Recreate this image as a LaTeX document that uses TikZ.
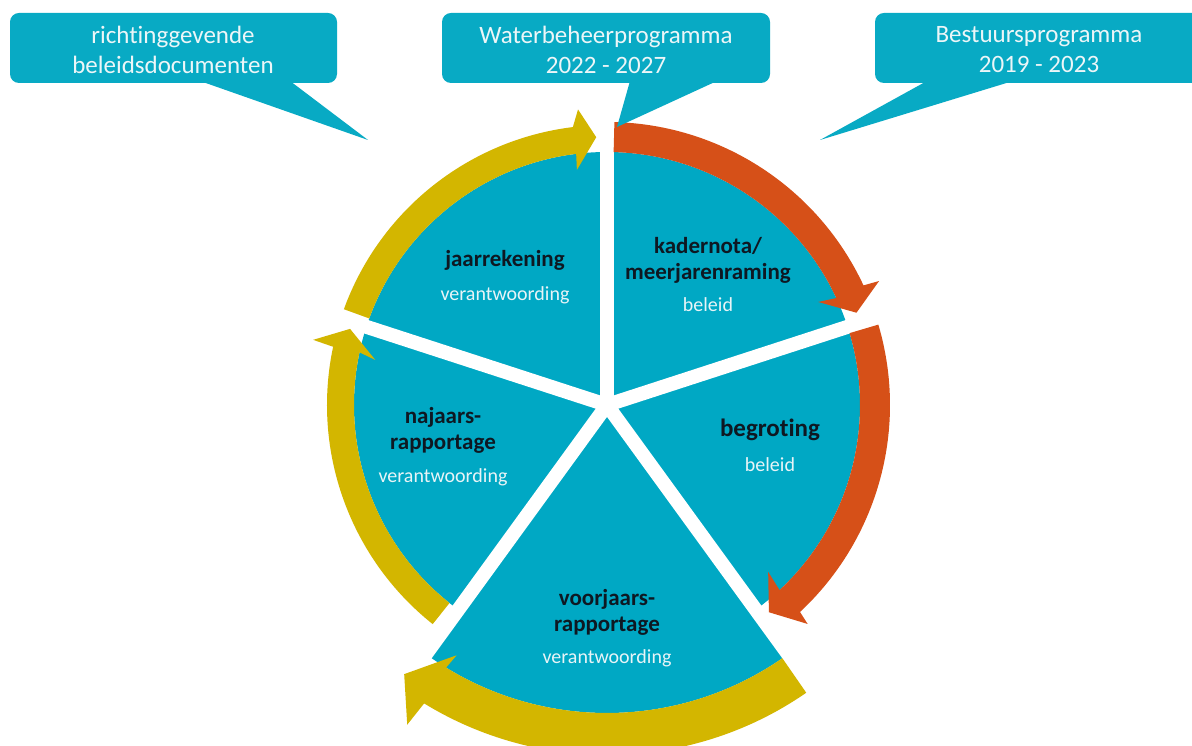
\documentclass[tikz,border=0pt]{standalone}
\usepackage{fontspec}
\setmainfont{Carlito}[Ligatures={NoCommon}]
\definecolor{myteal}{RGB}{0,168,196}
\definecolor{callc}{RGB}{8,170,196}
\definecolor{orangec}{RGB}{214,80,24}
\definecolor{yellowc}{RGB}{211,182,0}
\definecolor{titlec}{RGB}{14,24,34}
\definecolor{subc}{RGB}{232,244,247}
\definecolor{calltxt}{RGB}{236,246,248}
\tikzset{
  ttl/.style={font=\bfseries\fontsize{23}{26}\selectfont, text=titlec, align=center, inner sep=0pt},
  subt/.style={font=\fontsize{20}{23}\selectfont, text=subc, inner sep=0pt},
  callt/.style={font=\fontsize{25}{30}\selectfont, text=calltxt, align=center, inner sep=0pt},
  callbox/.style={fill=callc, rounded corners=9pt},
  gapline/.style={draw=white, line width=14pt},
}
\begin{document}
\begin{tikzpicture}[x=1pt,y=1pt]
\useasboundingbox (0,0) rectangle (1192,746);
\clip (0,0) rectangle (1192,746);
\fill[white] (0,0) rectangle (1192,746);

\begin{scope}[shift={(607,341)}]
  % slices
  \fill[myteal] (0,0) -- (90:253pt) arc[start angle=90, end angle=18, radius=253pt] -- cycle;
  \fill[myteal] (0,0) -- (18:253pt) arc[start angle=18, end angle=-54, radius=253pt] -- cycle;
  \fill[myteal] (0,0) -- (-54:308pt) arc[start angle=-54, end angle=-126, radius=308pt] -- cycle;
  \fill[myteal] (0,0) -- (234:253pt) arc[start angle=234, end angle=162, radius=253pt] -- cycle;
  \fill[myteal] (0,0) -- (162:253pt) arc[start angle=162, end angle=90, radius=253pt] -- cycle;
  % gaps
  \foreach \a in {90,18,162} \draw[gapline] (0,0) -- (\a:256pt);
  \foreach \a in {234,306} \draw[gapline] (0,0) -- (\a:312pt);
  % orange arrows
  \fill[orangec] (88.5:283pt) arc[start angle=88.5, end angle=25, radius=283pt]
     -- (24.5:299pt) -- (20.3:266pt) -- (26:235pt) -- (25:253pt)
     arc[start angle=25, end angle=88.5, radius=253pt] -- cycle;
  \fill[orangec] (16.5:283pt) arc[start angle=16.5, end angle=-47, radius=283pt]
     -- (-47.5:297pt) -- (-52:263pt) -- (-46:232pt) -- (-47:253pt)
     arc[start angle=-47, end angle=16.5, radius=253pt] -- cycle;
  % yellow arrows
  \fill[yellowc] (-55.3:350pt) arc[start angle=-55.3, end angle=-121.5, radius=350pt]
     -- (-122:377pt) -- (-127:337pt) -- (-121:292pt) -- (-121.5:308pt)
     arc[start angle=-121.5, end angle=-55.3, radius=308pt] -- cycle;
  \fill[yellowc] (231.5:280pt) arc[start angle=231.5, end angle=168, radius=280pt]
     -- (167.5:301pt) -- (163.5:268pt) -- (169:236pt) -- (168:253pt)
     arc[start angle=168, end angle=231.5, radius=253pt] -- cycle;
  \fill[yellowc] (160:280pt) arc[start angle=160, end angle=97, radius=280pt]
     -- (95.6:297pt) -- (92.3:268pt) -- (97.3:237pt) -- (97:253pt)
     arc[start angle=97, end angle=160, radius=253pt] -- cycle;
\end{scope}

% callouts
\fill[callbox] (10,663) rectangle (337,733);
\fill[callc] (200,665) -- (290,665) -- (368,606) -- cycle;
\node[callt] (c1) at (173,696) {richtinggevende\\beleidsdocumenten};

\fill[callbox] (442,663) rectangle (770,733);
\fill[callc] (630,665) -- (717,665) -- (617,619) -- cycle;
\node[callt] (c2) at (606,696) {Waterbeheerprogramma\\2022 - 2027};

\fill[callbox] (875,663) rectangle (1215,733);
\fill[callc] (927,665) -- (1013,665) -- (820,606) -- cycle;
\node[callt] (c3) at (1039,696) {Bestuursprogramma\\2019 - 2023};

% slice texts
\node[ttl] (jr) at (505,486) {jaarrekening};
\node[subt] (jrs) at (505,451) {verantwoording};
\node[ttl] (kn) at (708,485.5) {kadernota/\\meerjarenraming};
\node[subt] (kns) at (708,441) {beleid};
\node[ttl, font=\bfseries\fontsize{25}{28}\selectfont] (bg) at (770,316) {begroting};
\node[subt] (bgs) at (770,281) {beleid};
\node[ttl] (nj) at (443,316) {najaars-\\rapportage};
\node[subt] (njs) at (443,269) {verantwoording};
\node[ttl] (vj) at (607,133.5) {voorjaars-\\rapportage};
\node[subt] (vjs) at (607,88) {verantwoording};
\end{tikzpicture}
\end{document}
